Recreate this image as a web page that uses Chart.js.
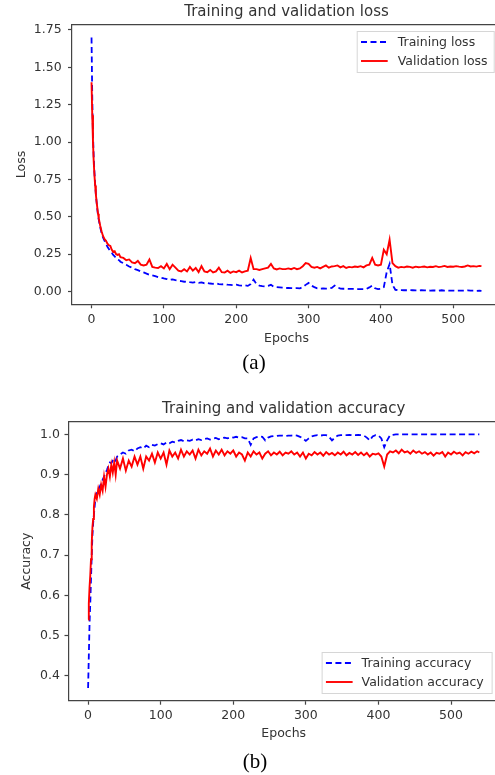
<!DOCTYPE html>
<html>
<head>
<meta charset="utf-8">
<script src="https://cdn.jsdelivr.net/npm/chart.js@4.4.0/dist/chart.umd.min.js"></script>
<style>
  html, body { margin: 0; padding: 0; background: #fff; width: 495px; height: 775px; overflow: hidden; }
  canvas { position: absolute; left: 0; }
  #lossChart { top: 0; }
  #accChart { top: 380px; }
  .cap { position: absolute; transform: translate(-50%, -50%); font-family: "Liberation Serif", "Times New Roman", serif; font-size: 21px; color: #000; }
</style>
</head>
<body>
<canvas id="lossChart" width="495" height="350"></canvas>
<canvas id="accChart" width="495" height="365"></canvas>
<div class="cap" style="left:254px; top:362px">(a)</div>
<div class="cap" style="left:255px; top:761px">(b)</div>

<script>
// Epochs sampled from the figure (denser where the curves drop fast)
const epochs = [
  0, 1, 2, 3, 4, 5, 6, 7, 8, 9, 10,
  12, 14, 16, 18, 20, 22, 24, 26, 28, 30, 32, 34, 36, 38, 40,
  44, 48, 52, 56, 60, 64, 68, 72, 76, 80, 84, 88, 92, 96, 100,
  104, 108, 112, 116, 120, 124, 128, 132, 136, 140, 144, 148, 152, 156, 160,
  164, 168, 172, 176, 180, 184, 188, 192, 196, 200, 204, 208, 212, 216, 220,
  224, 228, 232, 236, 240, 244, 248, 252, 256, 260, 264, 268, 272, 276, 280,
  284, 288, 292, 296, 300, 304, 308, 312, 316, 320, 324, 328, 332, 336, 340,
  344, 348, 352, 356, 360, 364, 368, 372, 376, 380, 384, 388, 392, 396, 400,
  404, 408, 412, 416, 420, 424, 428, 432, 436, 440, 444, 448, 452, 456, 460,
  464, 468, 472, 476, 480, 484, 488, 492, 496, 500, 504, 508, 512, 516, 520,
  524, 528, 532, 536, 539
];

const trainLoss = [
  1.70, 1.30, 1.05, 0.90, 0.80, 0.72, 0.65, 0.60, 0.55, 0.51, 0.48,
  0.43, 0.39, 0.36, 0.34, 0.32, 0.30, 0.285, 0.27, 0.26, 0.245, 0.235, 0.225, 0.215, 0.21, 0.20,
  0.19, 0.18, 0.168, 0.16, 0.15, 0.143, 0.135, 0.128, 0.12, 0.112, 0.108, 0.103, 0.097, 0.093, 0.088,
  0.084, 0.078, 0.082, 0.076, 0.072, 0.07, 0.066, 0.068, 0.063, 0.06, 0.064, 0.058, 0.061, 0.056, 0.058,
  0.054, 0.052, 0.055, 0.05, 0.048, 0.05, 0.046, 0.045, 0.043, 0.046, 0.041, 0.04, 0.042, 0.038, 0.05,
  0.08, 0.05, 0.04, 0.036, 0.034, 0.038, 0.045, 0.032, 0.03, 0.028, 0.026, 0.024, 0.024, 0.023, 0.022,
  0.023, 0.022, 0.03, 0.045, 0.058, 0.04, 0.03, 0.022, 0.02, 0.021, 0.02, 0.02, 0.025, 0.04, 0.028,
  0.02, 0.019, 0.019, 0.018, 0.018, 0.018, 0.017, 0.017, 0.017, 0.018, 0.028, 0.04, 0.022, 0.016, 0.018,
  0.03, 0.13, 0.185, 0.045, 0.012, 0.01, 0.01, 0.009, 0.009, 0.01, 0.009, 0.008, 0.008, 0.009, 0.008,
  0.008, 0.007, 0.008, 0.007, 0.007, 0.009, 0.007, 0.007, 0.006, 0.007, 0.006, 0.007, 0.006, 0.006, 0.008,
  0.006, 0.006, 0.005, 0.006, 0.005
];

const valLoss = [
  1.40, 1.18, 1.00, 0.87, 0.78, 0.71, 0.65, 0.60, 0.56, 0.52, 0.49,
  0.44, 0.40, 0.37, 0.35, 0.34, 0.32, 0.31, 0.305, 0.28, 0.265, 0.27, 0.25, 0.245, 0.25, 0.23,
  0.225, 0.21, 0.215, 0.195, 0.19, 0.205, 0.18, 0.175, 0.18, 0.215, 0.165, 0.16, 0.158, 0.17, 0.155,
  0.185, 0.15, 0.18, 0.16, 0.14, 0.135, 0.15, 0.135, 0.165, 0.14, 0.158, 0.13, 0.17, 0.135, 0.13,
  0.145, 0.128, 0.135, 0.16, 0.13, 0.128, 0.14, 0.125, 0.135, 0.13, 0.14, 0.128, 0.135, 0.14, 0.225,
  0.15, 0.15, 0.145, 0.15, 0.155, 0.16, 0.185, 0.155, 0.148, 0.155, 0.15, 0.15, 0.155, 0.15, 0.158,
  0.15, 0.155, 0.17, 0.19, 0.185, 0.165, 0.16, 0.165, 0.155, 0.165, 0.175, 0.16, 0.168, 0.17, 0.175,
  0.162, 0.17, 0.158, 0.165, 0.162, 0.168, 0.165, 0.17, 0.162, 0.175, 0.18, 0.225, 0.18, 0.175, 0.18,
  0.28, 0.25, 0.347, 0.19, 0.17, 0.16, 0.165, 0.162, 0.168, 0.165, 0.16, 0.167, 0.163, 0.165, 0.168,
  0.162, 0.166, 0.165, 0.17, 0.164, 0.167, 0.172, 0.165, 0.168, 0.166, 0.17, 0.167, 0.165, 0.168, 0.175,
  0.168, 0.17, 0.167, 0.172, 0.17
];

const trainAcc = [
  0.37, 0.45, 0.53, 0.58, 0.64, 0.70, 0.75, 0.78, 0.80, 0.82, 0.84,
  0.855, 0.862, 0.87, 0.878, 0.887, 0.895, 0.903, 0.912, 0.922, 0.93, 0.928, 0.935, 0.94, 0.935, 0.945,
  0.95, 0.955, 0.952, 0.96, 0.962, 0.958, 0.965, 0.968, 0.965, 0.972, 0.968, 0.974, 0.972, 0.976, 0.978,
  0.975, 0.98, 0.978, 0.982, 0.98, 0.984, 0.986, 0.983, 0.985, 0.984, 0.987, 0.985, 0.988, 0.986, 0.988,
  0.99, 0.987, 0.989, 0.991, 0.988, 0.99, 0.992, 0.99, 0.993, 0.992, 0.994, 0.992, 0.993, 0.99, 0.99,
  0.974, 0.99, 0.993, 0.995, 0.994, 0.985, 0.992, 0.995, 0.996, 0.996, 0.997, 0.997, 0.996, 0.997, 0.997,
  0.998, 0.997, 0.994, 0.99, 0.984, 0.99, 0.995, 0.997, 0.998, 0.997, 0.998, 0.998, 0.994, 0.985, 0.992,
  0.997, 0.998, 0.998, 0.998, 0.999, 0.998, 0.998, 0.999, 0.998, 0.997, 0.992, 0.985, 0.995, 0.998, 0.997,
  0.99, 0.968, 0.985, 0.998, 0.999, 1.0, 1.0, 1.0, 1.0, 1.0, 1.0, 1.0, 1.0, 1.0, 1.0,
  1.0, 1.0, 1.0, 1.0, 1.0, 1.0, 1.0, 1.0, 1.0, 1.0, 1.0, 1.0, 1.0, 1.0, 1.0,
  1.0, 1.0, 1.0, 1.0, 1.0
];

const valAcc = [
  0.54, 0.58, 0.62, 0.65, 0.69, 0.73, 0.77, 0.79, 0.82, 0.84, 0.85,
  0.84, 0.865, 0.85, 0.875, 0.86, 0.895, 0.87, 0.90, 0.915, 0.895, 0.925, 0.905, 0.93, 0.90, 0.935,
  0.915, 0.94, 0.91, 0.935, 0.92, 0.945, 0.925, 0.945, 0.915, 0.945, 0.935, 0.952, 0.93, 0.955, 0.94,
  0.955, 0.925, 0.96, 0.945, 0.955, 0.94, 0.962, 0.945, 0.958, 0.95, 0.96, 0.94, 0.962, 0.948, 0.958,
  0.952, 0.965, 0.945, 0.96, 0.95, 0.962, 0.948, 0.958, 0.952, 0.96, 0.945, 0.955, 0.95, 0.935, 0.955,
  0.945, 0.958, 0.95, 0.955, 0.94, 0.952, 0.958, 0.948, 0.955, 0.95, 0.957, 0.948, 0.955, 0.952, 0.958,
  0.95, 0.955, 0.945, 0.955, 0.94, 0.952, 0.948, 0.956, 0.95, 0.955, 0.947, 0.956, 0.95, 0.954, 0.948,
  0.955, 0.95, 0.957, 0.948, 0.954, 0.95, 0.956, 0.949, 0.955, 0.948, 0.954, 0.945, 0.952, 0.95, 0.953,
  0.945, 0.92, 0.95, 0.958, 0.955, 0.96, 0.953, 0.962, 0.955, 0.958, 0.952, 0.96, 0.954, 0.958, 0.952,
  0.956, 0.95, 0.955, 0.947, 0.954, 0.952, 0.956, 0.945, 0.955, 0.95, 0.957, 0.952, 0.955, 0.948, 0.956,
  0.952, 0.957, 0.953, 0.958, 0.955
];

const xTicks = [0, 100, 200, 300, 400, 500];
const lossTicks = [0, 0.25, 0.5, 0.75, 1.0, 1.25, 1.5, 1.75];
const accTicks = [0.4, 0.5, 0.6, 0.7, 0.8, 0.9, 1.0];

// full x range of the original axes; the right end is cut off by the image edge
const X_START = -27;
const X_END = 566;

const FONT = '"DejaVu Sans", Verdana, sans-serif';
const TEXT = '#333';
const AXIS = '#444';

// Draws the matplotlib-style bits Chart.js has no direct option for:
// top spine, title over the plot area, a boxed legend and the x label.
const decor = {
  id: 'decor',
  afterDraw(chart, args, opts) {
    const { ctx, chartArea: ca } = chart;
    const fullRight = chart.scales.x.getPixelForValue(X_END);
    const mid = (ca.left + fullRight) / 2;

    ctx.save();
    ctx.strokeStyle = AXIS;
    ctx.lineWidth = 1.2;
    ctx.beginPath();
    ctx.moveTo(ca.left, ca.top);
    ctx.lineTo(ca.right, ca.top);
    ctx.stroke();

    ctx.fillStyle = TEXT;
    ctx.font = '15px ' + FONT;
    ctx.textAlign = 'center';
    ctx.textBaseline = 'alphabetic';
    ctx.fillText(opts.title, mid, ca.top - 8.5);

    ctx.font = '12.5px ' + FONT;
    ctx.textBaseline = 'middle';
    ctx.fillText('Epochs', mid, ca.bottom + opts.xTitleDy);

    // legend box
    const lg = opts.legend;
    const right = fullRight - 6.3;
    const left = right - lg.w;
    const top = lg.anchor === 'top' ? ca.top + 6.3 : ca.bottom - 6.7 - lg.h;
    ctx.fillStyle = 'rgba(255,255,255,0.8)';
    ctx.fillRect(left, top, lg.w, lg.h);
    ctx.strokeStyle = '#d6d6d6';
    ctx.lineWidth = 1;
    ctx.strokeRect(left + 0.5, top + 0.5, lg.w - 1, lg.h - 1);

    ctx.textAlign = 'left';
    chart.data.datasets.forEach((ds, i) => {
      const y = top + 11 + i * 19;
      ctx.strokeStyle = ds.borderColor;
      ctx.lineWidth = ds.borderWidth;
      ctx.setLineDash(ds.borderDash || []);
      ctx.beginPath();
      ctx.moveTo(left + 4.3, y);
      ctx.lineTo(left + 31, y);
      ctx.stroke();
      ctx.setLineDash([]);
      ctx.fillStyle = TEXT;
      ctx.fillText(ds.label, left + lg.textX, y + 0.5);
    });
    ctx.restore();
  }
};

function pairs(ys) {
  return epochs.map((e, i) => ({ x: e, y: ys[i] }));
}

function makeChart(id, c) {
  const tickFont = { family: FONT, size: 12.5 };
  return new Chart(document.getElementById(id), {
    type: 'line',
    data: {
      datasets: [
        {
          label: c.labels[0],
          data: pairs(c.train),
          borderColor: '#0000ff',
          borderDash: [6, 3.5],
          borderWidth: 1.8,
          pointRadius: 0,
          order: 2
        },
        {
          label: c.labels[1],
          data: pairs(c.val),
          borderColor: '#ff0000',
          borderWidth: 1.9,
          pointRadius: 0,
          order: 1
        }
      ]
    },
    options: {
      responsive: false,
      animation: false,
      layout: { padding: { left: 0, top: c.padTop, right: 0, bottom: 0 } },
      plugins: {
        legend: { display: false },
        tooltip: { enabled: false },
        decor: { title: c.title, legend: c.legend, xTitleDy: c.xTitleDy }
      },
      scales: {
        x: {
          type: 'linear',
          min: X_START,
          max: c.xMax,
          afterBuildTicks: s => { s.ticks = xTicks.map(v => ({ value: v })); },
          afterFit: s => { s.height = c.xHeight; },
          grid: { drawOnChartArea: false, color: AXIS, tickLength: 4, tickWidth: 1.2 },
          border: { color: AXIS, width: 1.2 },
          ticks: { font: tickFont, color: TEXT, padding: 4, maxRotation: 0, callback: v => String(v) }
        },
        y: {
          type: 'linear',
          min: c.yMin,
          max: c.yMax,
          afterBuildTicks: s => { s.ticks = c.yTicks.map(v => ({ value: v })); },
          afterFit: s => { s.width = c.yWidth; },
          grid: { drawOnChartArea: false, color: AXIS, tickLength: 4, tickWidth: 1.2 },
          border: { color: AXIS, width: 1.2 },
          ticks: { font: tickFont, color: TEXT, padding: c.yTickPad, callback: v => v.toFixed(c.decimals) },
          title: { display: true, text: c.yLabel, font: tickFont, color: TEXT, padding: { top: c.yTitlePad, bottom: 0 } }
        }
      }
    },
    plugins: [decor]
  });
}

makeChart('lossChart', {
  title: 'Training and validation loss',
  labels: ['Training loss', 'Validation loss'],
  train: trainLoss,
  val: valLoss,
  yLabel: 'Loss',
  yTicks: lossTicks,
  decimals: 2,
  yMin: -0.085,
  yMax: 1.785,
  xMax: 557.7,
  padTop: 24.7,
  xHeight: 45.7,
  xTitleDy: 34,
  yWidth: 72,
  yTickPad: 6.3,
  yTitlePad: 14.5,
  legend: { anchor: 'top', w: 138, h: 42, textX: 41 }
});

makeChart('accChart', {
  title: 'Training and validation accuracy',
  labels: ['Training accuracy', 'Validation accuracy'],
  train: trainAcc,
  val: valAcc,
  yLabel: 'Accuracy',
  yTicks: accTicks,
  decimals: 1,
  yMin: 0.3385,
  yMax: 1.0315,
  xMax: 560.6,
  padTop: 41.7,
  xHeight: 44.3,
  xTitleDy: 33.3,
  yWidth: 68.5,
  yTickPad: 4.5,
  yTitlePad: 19,
  legend: { anchor: 'bottom', w: 171, h: 42, textX: 40 }
});
</script>
</body>
</html>
